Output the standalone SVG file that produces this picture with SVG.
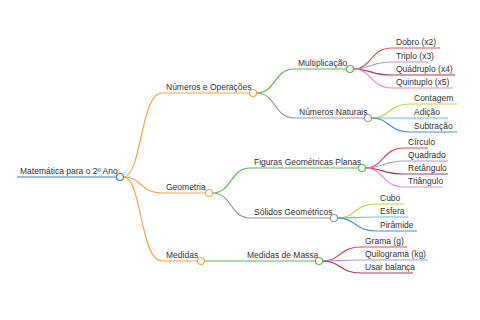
<svg xmlns="http://www.w3.org/2000/svg" width="480" height="320" viewBox="0 0 480 320">
<style>
text{font-family:"Liberation Sans",Arial,sans-serif;font-size:8.5px;fill:#333}
path{fill:none;stroke-width:1.2}
circle{fill:#fff;stroke-width:1.2}
.b{stroke:#2f80c6}.o{stroke:#f4a24c}.g{stroke:#62b356}.gr{stroke:#9a9a9a}
.r{stroke:#d9505a}.p{stroke:#a79ad6}.m{stroke:#a33d5c}.k{stroke:#e889c2}
.y{stroke:#c6cf55}.c{stroke:#56c3d8}.u{stroke:#4a8fcf}
</style>
<rect width="480" height="320" fill="#fff"/>
<g id="connectors">
<path class="b" d="M17,177 H116.5"/>
<path class="o" d="M123.5,177 C142,177 140,93 162,93 H249.5"/>
<path class="o" d="M123.5,177 C142,177 140,193 162,193 H205.5"/>
<path class="o" d="M123.5,177 C142,177 140,261 162,261 H197.5"/>
<path class="g" d="M256.5,93 C276,93 274,69 294,69 H346.5"/>
<path class="gr" d="M256.5,93 C276,93 274,118 294,118 H364.5"/>
<path class="r" d="M353.5,69 C372,69 370,48 392,48 H440"/>
<path class="p" d="M353.5,69 C372,69 370,62 392,62 H428"/>
<path class="m" d="M353.5,69 C372,69 370,75 392,75 H455"/>
<path class="k" d="M353.5,69 C372,69 370,88 392,88 H453"/>
<path class="y" d="M371.5,118 C390,118 388,104 410,104 H457"/>
<path class="c" d="M371.5,118 H448"/>
<path class="u" d="M371.5,118 C390,118 388,132 410,132 H457"/>
<path class="g" d="M212.5,193 C232,193 230,168 250,168 H358.5"/>
<path class="gr" d="M212.5,193 C232,193 230,218 250,218 H330.5"/>
<path class="r" d="M365.5,168 C384,168 382,148 404,148 H428"/>
<path class="p" d="M365.5,168 C384,168 382,161 404,161 H448"/>
<path class="m" d="M365.5,168 C384,168 382,174 404,174 H448"/>
<path class="k" d="M365.5,168 C384,168 382,187 404,187 H443"/>
<path class="y" d="M337.5,218 C356,218 354,204 376,204 H404"/>
<path class="c" d="M337.5,218 C356,218 354,217 376,217 H408"/>
<path class="u" d="M337.5,218 C356,218 354,231 376,231 H417"/>
<path class="g" d="M204.5,261 H315.5"/>
<path class="r" d="M322.5,261 C341,261 339,247 361,247 H407"/>
<path class="p" d="M322.5,261 C341,261 339,260 361,260 H428"/>
<path class="m" d="M322.5,261 C341,261 339,273 361,273 H413"/>
</g>
<g id="root"><text x="20" y="174">Matemática para o 2º Ano</text><circle class="b" cx="120" cy="177" r="3.5"/></g>
<g id="n-numeros"><text x="166" y="90">Números e Operações</text><circle class="o" cx="253" cy="93" r="3.5"/></g>
<g id="n-geometria"><text x="166" y="190">Geometria</text><circle class="o" cx="209" cy="193" r="3.5"/></g>
<g id="n-medidas"><text x="166" y="258">Medidas</text><circle class="o" cx="201" cy="261" r="3.5"/></g>
<g id="n-mult"><text x="298" y="66">Multiplicação</text><circle class="g" cx="350" cy="69" r="3.5"/></g>
<g id="n-nat"><text x="299" y="115">Números Naturais</text><circle class="gr" cx="368" cy="118" r="3.5"/></g>
<g id="n-dobro"><text x="396" y="45">Dobro (x2)</text></g>
<g id="n-triplo"><text x="396" y="59">Triplo (x3)</text></g>
<g id="n-quad"><text x="396" y="72">Quádruplo (x4)</text></g>
<g id="n-quint"><text x="396" y="85">Quintuplo (x5)</text></g>
<g id="n-cont"><text x="414" y="101">Contagem</text></g>
<g id="n-adic"><text x="414" y="115">Adição</text></g>
<g id="n-subt"><text x="414" y="129">Subtração</text></g>
<g id="n-fig"><text x="254" y="165">Figuras Geométricas Planas</text><circle class="g" cx="362" cy="168" r="3.5"/></g>
<g id="n-sol"><text x="254" y="215">Sólidos Geométricos</text><circle class="gr" cx="334" cy="218" r="3.5"/></g>
<g id="n-circ"><text x="408" y="145">Círculo</text></g>
<g id="n-quadr"><text x="408" y="158">Quadrado</text></g>
<g id="n-ret"><text x="408" y="171">Retângulo</text></g>
<g id="n-tri"><text x="408" y="184">Triângulo</text></g>
<g id="n-cubo"><text x="380" y="201">Cubo</text></g>
<g id="n-esf"><text x="380" y="214">Esfera</text></g>
<g id="n-pir"><text x="380" y="228">Pirâmide</text></g>
<g id="n-massa"><text x="247" y="258">Medidas de Massa</text><circle class="g" cx="319" cy="261" r="3.5"/></g>
<g id="n-grama"><text x="365" y="244">Grama (g)</text></g>
<g id="n-kg"><text x="365" y="257">Quilograma (kg)</text></g>
<g id="n-bal"><text x="365" y="270">Usar balança</text></g>
</svg>
